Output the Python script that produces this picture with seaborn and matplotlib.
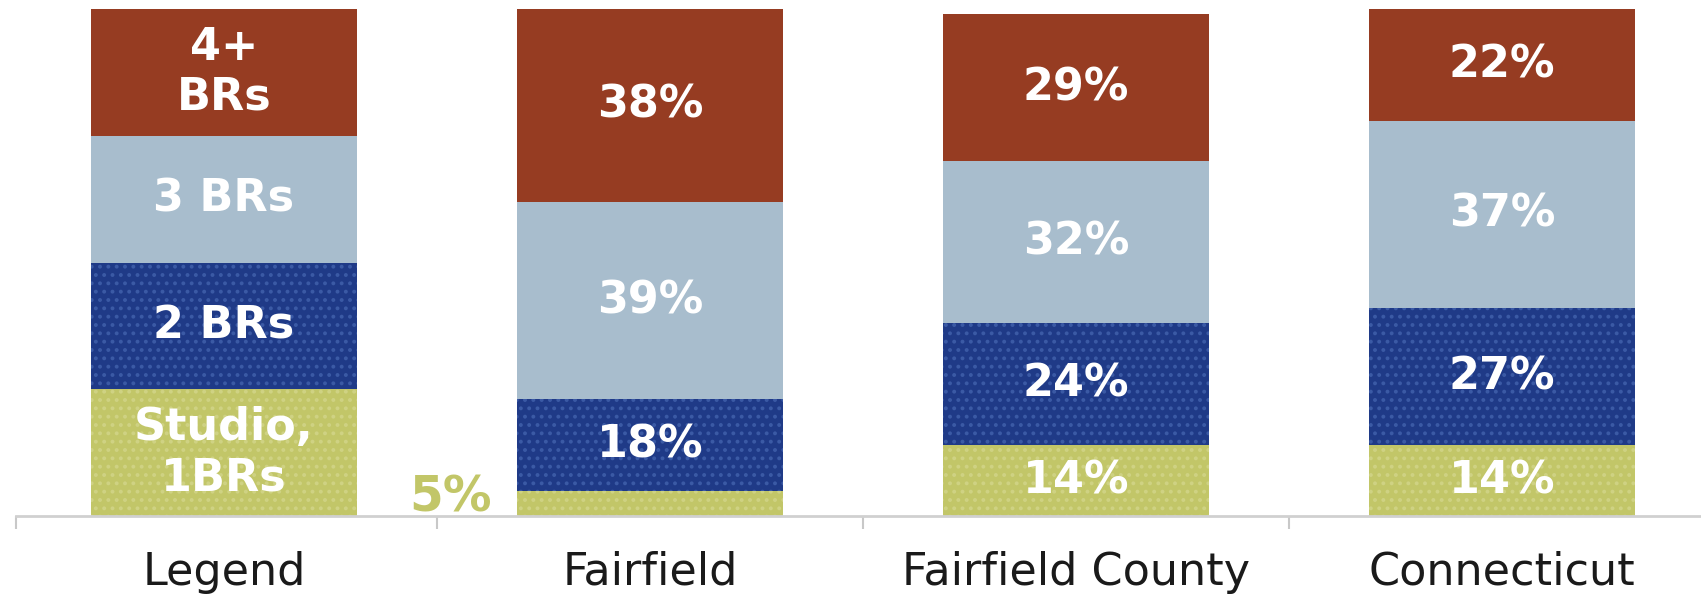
import matplotlib
matplotlib.use("Agg")
import matplotlib.pyplot as plt
import numpy as np
import pandas as pd
import seaborn as sns

# Share of housing units by number of bedrooms (percent)
categories = ["Legend", "Fairfield", "Fairfield County", "Connecticut"]
segment_names = ["Studio,\n1BRs", "2 BRs", "3 BRs", "4+\nBRs"]
legend_share = [25, 25, 25, 25]
studio_1br = [5, 14, 14]
two_br = [18, 24, 27]
three_br = [39, 32, 37]
four_plus_br = [38, 29, 22]

series = [studio_1br, two_br, three_br, four_plus_br]

fills = ["#c2c668", "#1f3a87", "#a8bdcd", "#963c22"]
dots = ["#cfd283", "#3b5aa5", None, None]

sns.set_theme(style="white")
plt.rcParams["font.family"] = ["DejaVu Sans"]
plt.rcParams["hatch.linewidth"] = 1.6

fig = plt.figure(figsize=(17.01, 5.96), dpi=100)
ax = fig.add_axes([16 / 1701, 80 / 596, 1 - 16 / 1701, 507 / 596])

# Legend column uses equal shares so each bedroom class gets a labelled block
stack = np.column_stack([legend_share, np.array(series)])
cum = np.cumsum(stack, axis=0)
df = pd.DataFrame({"place": categories})

# Stack by drawing cumulative totals from the top segment down
for i in reversed(range(len(series))):
    style = dict(color=fills[i], linewidth=0, saturation=1)
    if dots[i] is not None:
        style.update(hatch="..", edgecolor=dots[i])
    df["total"] = cum[i]
    sns.barplot(data=df, x="place", y="total", order=categories,
                width=0.625, ax=ax, **style)

label_kw = dict(ha="center", va="center", color="white", fontsize=32,
                fontweight="bold")

# Legend bar segment names
bottom = 0
for name, share in zip(segment_names, legend_share):
    ax.text(0, bottom + share / 2, name, linespacing=1.2, **label_kw)
    bottom += share

# Percent labels inside each segment; thin segments get a label beside the bar
for j in range(len(categories) - 1):
    bottom = 0
    for k, vals in enumerate(series):
        v = vals[j]
        if v >= 10:
            ax.text(j + 1, bottom + v / 2, f"{v}%", **label_kw)
        else:
            ax.text(j + 1 - 0.3125 - 0.06, bottom + v / 2 + 1.2, f"{v}%",
                    ha="right", va="center", color=fills[k], fontsize=35,
                    fontweight="bold")
        bottom += v

ax.set_xlim(-0.488, 3.467)
ax.set_ylim(0, 100)
ax.set_xlabel("")
ax.set_ylabel("")
ax.set_yticks([])
ax.set_xticks(range(len(categories)))
ax.set_xticklabels(categories, fontsize=32, color="#1a1a1a")
ax.tick_params(axis="x", which="major", length=0, pad=25)
ax.set_xticks([-0.488, 0.5, 1.5, 2.5], minor=True)
ax.tick_params(axis="x", which="minor", length=9, width=1.5, color="#c8c8c8",
               bottom=True)

for side in ["top", "right", "left"]:
    ax.spines[side].set_visible(False)
ax.spines["bottom"].set_color("#d0d0d0")
ax.spines["bottom"].set_linewidth(2)

fig.savefig("out.png", dpi=100, facecolor="white")
